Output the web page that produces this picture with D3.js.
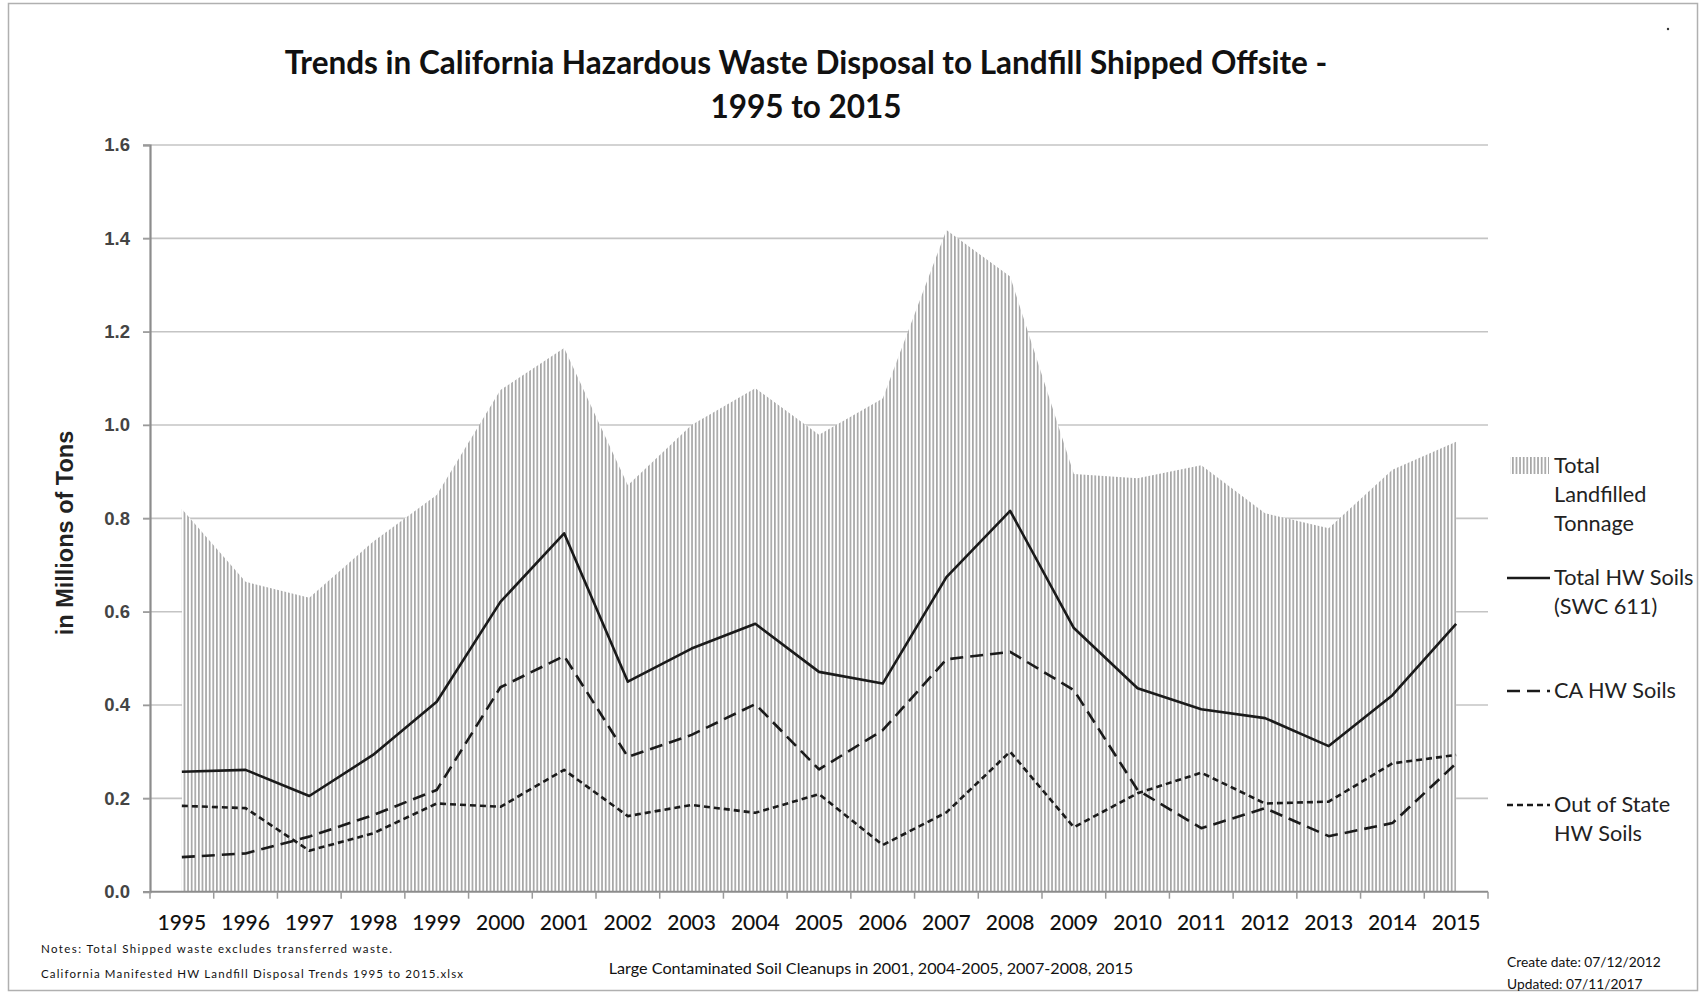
<!DOCTYPE html>
<html>
<head>
<meta charset="utf-8">
<script src="https://cdn.jsdelivr.net/npm/d3@7/dist/d3.min.js"></script>
<style>
  html, body { margin: 0; padding: 0; background: #fff; }
  svg { display: block; }
</style>
</head>
<body>
<svg id="chart" width="1701" height="993"></svg>
<script>
// California hazardous waste disposal to landfill (millions of tons)
const years = ["1995","1996","1997","1998","1999","2000","2001","2002","2003","2004","2005",
               "2006","2007","2008","2009","2010","2011","2012","2013","2014","2015"];

const totalLandfilled = [0.82, 0.664, 0.63, 0.75, 0.85, 1.075, 1.165, 0.871, 1.0, 1.079, 0.979,
                         1.057, 1.418, 1.318, 0.895, 0.886, 0.914, 0.811, 0.779, 0.904, 0.964];
const totalHWSoils    = [0.257, 0.261, 0.205, 0.293, 0.407, 0.621, 0.768, 0.45, 0.521, 0.574, 0.471,
                         0.446, 0.674, 0.816, 0.565, 0.436, 0.391, 0.372, 0.312, 0.421, 0.574];
const caHWSoils       = [0.074, 0.082, 0.118, 0.164, 0.218, 0.438, 0.505, 0.289, 0.336, 0.402, 0.262,
                         0.346, 0.498, 0.514, 0.432, 0.218, 0.136, 0.179, 0.119, 0.147, 0.275];
const outOfStateSoils = [0.184, 0.179, 0.088, 0.125, 0.189, 0.182, 0.261, 0.162, 0.186, 0.169, 0.209,
                         0.100, 0.170, 0.300, 0.138, 0.211, 0.255, 0.189, 0.193, 0.275, 0.293];

const yTicks = [0, 0.2, 0.4, 0.6, 0.8, 1.0, 1.2, 1.4, 1.6];

const titleLines = ["Trends in California Hazardous Waste Disposal to Landfill Shipped Offsite -",
                    "1995 to 2015"];
const yTitle = "in Millions of Tons";
const noteLines = ["Notes: Total Shipped waste excludes  transferred waste.",
                   "California Manifested HW Landfill Disposal Trends 1995 to 2015.xlsx"];
const footnote = "Large Contaminated Soil Cleanups in 2001, 2004-2005, 2007-2008, 2015";
const dateLines = ["Create date: 07/12/2012", "Updated: 07/11/2017"];

const legendItems = [
  { kind: "area",  lines: ["Total", "Landfilled", "Tonnage"] },
  { kind: "solid", lines: ["Total HW Soils", "(SWC 611)"] },
  { kind: "long",  lines: ["CA HW Soils"] },
  { kind: "short", lines: ["Out of State", "HW Soils"] }
];

const svg = d3.select("#chart");
const W = 1701, H = 993;
const plot = { left: 150, right: 1488, top: 145, bottom: 891.7 };
const CAL = "Lato, 'Open Sans', sans-serif";
const ARIAL = "'Liberation Sans', Arial, sans-serif";

const x = d3.scaleBand().domain(years).range([plot.left, plot.right]).padding(0);
const cx = d => x(d) + x.bandwidth() / 2;
const y = d3.scaleLinear().domain([0, 1.6]).range([plot.bottom, plot.top]);

// frame round the whole chart
svg.append("rect").attr("x", 8.5).attr("y", 3.5).attr("width", W - 12).attr("height", H - 6)
  .attr("fill", "none").attr("stroke", "#b0b0b0").attr("stroke-width", 1.5);

// vertical hatch pattern for the area
const defs = svg.append("defs");
const pat = defs.append("pattern").attr("id", "vhatch").attr("patternUnits", "userSpaceOnUse")
  .attr("width", 3.6).attr("height", 10);
pat.append("rect").attr("width", 3.6).attr("height", 10).attr("fill", "#fff");
pat.append("rect").attr("x", 0).attr("width", 1.7).attr("height", 10).attr("fill", "#a6a6a6");

// horizontal gridlines
svg.append("g").selectAll("line").data(yTicks.filter(v => v > 0)).join("line")
  .attr("x1", plot.left - 7).attr("x2", plot.right)
  .attr("y1", d => y(d)).attr("y2", d => y(d))
  .attr("stroke", "#c4c4c4").attr("stroke-width", 1.6);

// total landfilled tonnage area
const idx = d3.range(years.length);
const area = d3.area().x(i => cx(years[i])).y0(y(0)).y1(i => y(totalLandfilled[i]));
svg.append("path").datum(idx).attr("d", area).attr("fill", "url(#vhatch)");

// soil series lines
const lineGen = vals => d3.line().x(i => cx(years[i])).y(i => y(vals[i]))(idx);
const series = [
  { vals: totalHWSoils,    dash: null },
  { vals: caHWSoils,       dash: "13,7" },
  { vals: outOfStateSoils, dash: "6,4" }
];
series.forEach(s => {
  svg.append("path").attr("d", lineGen(s.vals)).attr("fill", "none")
    .attr("stroke", "#1a1a1a").attr("stroke-width", 2.6)
    .attr("stroke-linejoin", "round")
    .attr("stroke-dasharray", s.dash);
});

// y axis
const yAxis = svg.append("g").attr("transform", `translate(${plot.left},0)`)
  .call(d3.axisLeft(y).tickValues(yTicks).tickFormat(d3.format(".1f")).tickSize(7).tickPadding(13));
yAxis.select(".domain").attr("stroke", "#8c8c8c").attr("stroke-width", 2.2);
yAxis.selectAll(".tick line").attr("stroke", "#9a9a9a").attr("stroke-width", 1.5);
yAxis.selectAll(".tick text").attr("font-family", ARIAL).attr("font-size", 18.5)
  .attr("font-weight", "bold").attr("fill", "#444");

// x axis with ticks at category boundaries
const xg = svg.append("g");
xg.append("line").attr("x1", plot.left).attr("x2", plot.right)
  .attr("y1", plot.bottom).attr("y2", plot.bottom)
  .attr("stroke", "#8c8c8c").attr("stroke-width", 2);
xg.selectAll("line.tk").data(years.concat(["end"])).join("line").attr("class", "tk")
  .attr("x1", (d, i) => plot.left + i * x.bandwidth())
  .attr("x2", (d, i) => plot.left + i * x.bandwidth())
  .attr("y1", plot.bottom).attr("y2", plot.bottom + 7)
  .attr("stroke", "#9a9a9a").attr("stroke-width", 1.5);
xg.selectAll("text").data(years).join("text")
  .attr("x", d => cx(d)).attr("y", 930)
  .attr("text-anchor", "middle").attr("font-family", CAL).attr("font-size", 21)
  .attr("font-weight", 500).attr("fill", "#111").text(d => d);

// title
svg.append("g").selectAll("text").data(titleLines).join("text")
  .attr("x", 806).attr("y", (d, i) => 74 + i * 44)
  .attr("text-anchor", "middle").attr("font-family", CAL).attr("font-weight", "bold")
  .attr("font-size", 31.5).attr("fill", "#111").text(d => d);

// y axis title
svg.append("text").attr("transform", "translate(73,533) rotate(-90)")
  .attr("text-anchor", "middle").attr("font-family", ARIAL).attr("font-weight", "bold")
  .attr("font-size", 23.5).attr("fill", "#222").text(yTitle);

// notes
const noteWidths = [351, 422];
svg.append("g").selectAll("text").data(noteLines).join("text")
  .attr("x", 41).attr("y", (d, i) => 953 + i * 25)
  .attr("font-family", CAL).attr("font-size", 11.5).attr("fill", "#111")
  .attr("textLength", (d, i) => noteWidths[i]).attr("lengthAdjust", "spacing")
  .text(d => d);

svg.append("text").attr("x", 871).attr("y", 974).attr("text-anchor", "middle")
  .attr("font-family", CAL).attr("font-size", 16.2).attr("fill", "#111").text(footnote);

svg.append("g").selectAll("text").data(dateLines).join("text")
  .attr("x", 1507).attr("y", (d, i) => 967 + i * 22)
  .attr("font-family", CAL).attr("font-size", 13.8).attr("fill", "#111").text(d => d);

// legend
const legendY = [466, 578, 691, 805];
const lg = svg.append("g");
legendItems.forEach((it, k) => {
  const ly = legendY[k];
  if (it.kind === "area") {
    lg.append("rect").attr("x", 1510).attr("y", ly - 9).attr("width", 39).attr("height", 17)
      .attr("fill", "url(#vhatch)");
  } else {
    lg.append("line").attr("x1", 1507).attr("x2", 1550).attr("y1", ly).attr("y2", ly)
      .attr("stroke", "#1a1a1a").attr("stroke-width", 2.6)
      .attr("stroke-dasharray", it.kind === "long" ? "13,7" : it.kind === "short" ? "6,4" : null);
  }
  it.lines.forEach((t, j) => {
    lg.append("text").attr("x", 1554).attr("y", ly + 7 + j * 29)
      .attr("font-family", CAL).attr("font-size", 21.7).attr("fill", "#222").text(t);
  });
});

// small mark at top right
svg.append("circle").attr("cx", 1668).attr("cy", 29).attr("r", 1.2).attr("fill", "#333");
</script>
</body>
</html>
